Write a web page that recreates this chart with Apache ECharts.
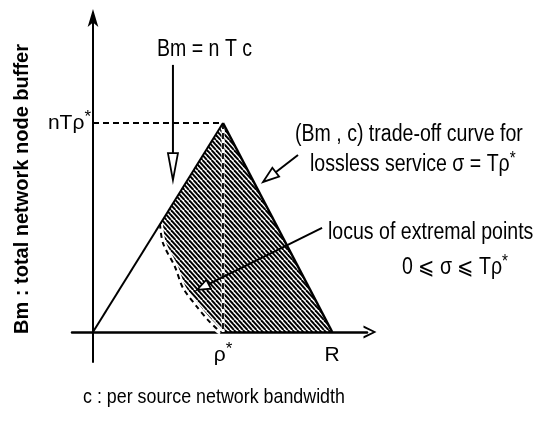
<!DOCTYPE html>
<html>
<head>
<meta charset="utf-8">
<script src="https://cdn.jsdelivr.net/npm/echarts@6/dist/echarts.min.js"></script>
<style>
  html, body { margin: 0; padding: 0; background: #fff; }
  #chart { width: 536px; height: 435px; }
</style>
</head>
<body>
<div id="chart"></div>
<script>
// c is measured in units of rho*, Bm in units of nT rho*
const rhoStar = 1;
const R = 1.84;
const peakBm = 1;

// Bm = nTc, from the origin up to the peak
const bufferLine = [[0, 0], [rhoStar, peakBm]];
// (Bm, c) trade-off curve for lossless service, sigma = T rho*
const tradeOffCurve = [[rhoStar, peakBm], [R, 0]];
// locus of extremal points for 0 <= sigma <= T rho*
const extremalLocus = [
  [0.515, 0.517], [0.538, 0.426], [0.631, 0.311], [0.692, 0.211],
  [0.800, 0.120], [0.885, 0.057], [0.962, 0.010], [0.985, 0]
];

// tick labels
const xTickValues = [rhoStar, R];
const xTickLabels = ['{m|ρ}{s|*}', '{m|R}'];
const yTickValues = [peakBm];
const yTickLabels = ['{m|nTρ}{s|*}'];

// annotation arrows: [tail, tip] in data units
const arrowNotes = [
  { from: [0.615, 1.278], to: [0.615, 0.727], head: 27, half: 5 },
  { from: [1.577, 0.847], to: [1.308, 0.718], head: 16, half: 5.5 },
  { from: [1.762, 0.498], to: [0.800, 0.201], head: 13, half: 5 }
];

const SANS = '"Liberation Sans", Arial, sans-serif';
// the condensed lettering is drawn with a horizontal squeeze
const SQUEEZE = 0.85;

// feasible region: peak -> R -> along the locus back up to the buffer line
const feasibleRegion = [tradeOffCurve[0], tradeOffCurve[1]].concat(extremalLocus.slice().reverse());

function makeHatch() {
  const c = document.createElement('canvas');
  c.width = 9; c.height = 10;
  const g = c.getContext('2d');
  g.strokeStyle = '#000';
  g.lineWidth = 1.9;
  for (const dx of [-13.5, -9, -4.5, 0, 4.5, 9, 13.5]) {
    g.beginPath();
    g.moveTo(dx, 0);
    g.lineTo(dx + 9, 10);
    g.stroke();
  }
  return c;
}
const hatchCanvas = makeHatch();

const tickRich = {
  m: { fontFamily: SANS, fontSize: 21, color: '#000', lineHeight: 28 },
  s: { fontFamily: SANS, fontSize: 17, color: '#000', verticalAlign: 'top', lineHeight: 28 }
};

function label(x, y, text, size) {
  return {
    type: 'text', x: x, y: y, scaleX: SQUEEZE,
    style: {
      text: text, verticalAlign: 'middle',
      rich: {
        m: { font: size + 'px ' + SANS, fill: '#000', lineHeight: 30 },
        s: { font: '18px ' + SANS, fill: '#000', lineHeight: 30, verticalAlign: 'top' }
      }
    }
  };
}

const chart = echarts.init(document.getElementById('chart'), null, { renderer: 'canvas' });

const black = { color: '#000', width: 2 };

chart.setOption({
  animation: false,
  backgroundColor: '#fff',
  grid: { left: 72, right: 169, top: 13, bottom: 73, containLabel: false, outerBoundsMode: 'none' },
  xAxis: {
    type: 'value', min: -0.1615, max: 2.1077,
    splitLine: { show: false },
    axisTick: { show: false },
    axisLine: {
      onZero: true,
      symbol: ['none', 'path://M0,12 L6,0 L12,12 L10,12 L6,3.5 L2,12 Z'],
      symbolSize: [13, 13],
      symbolOffset: [0, 3],
      lineStyle: { color: '#000', width: 2.5 }
    },
    axisLabel: {
      customValues: xTickValues,
      formatter: (v) => xTickLabels[xTickValues.indexOf(v)] || '',
      margin: -21,
      rich: tickRich
    }
  },
  yAxis: {
    type: 'value', min: -0.1435, max: 1.5263,
    splitLine: { show: false },
    axisTick: { show: false },
    axisLine: {
      onZero: true,
      symbol: ['none', 'arrow'],
      symbolSize: [8, 18],
      symbolOffset: [0, 4],
      lineStyle: { color: '#000', width: 2 }
    },
    axisLabel: {
      customValues: yTickValues,
      formatter: (v) => yTickLabels[yTickValues.indexOf(v)] || '',
      margin: -19,
      rich: tickRich
    }
  },
  series: [
    {
      // hatched feasible region
      type: 'custom', silent: true, z: 1,
      data: [[0, 0]],
      renderItem: (params, api) => ({
        type: 'polygon',
        shape: { points: feasibleRegion.map(p => api.coord(p)) },
        style: { fill: { image: hatchCanvas, repeat: 'repeat' }, stroke: null }
      })
    },
    // Bm = nTc
    { type: 'line', data: bufferLine, symbol: 'none', z: 3, lineStyle: black },
    // trade-off curve
    { type: 'line', data: tradeOffCurve, symbol: 'none', z: 3, lineStyle: { color: '#000', width: 2.5 } },
    // level nT rho*
    { type: 'line', data: [[0, peakBm], [rhoStar, peakBm]], symbol: 'none', z: 3,
      lineStyle: { color: '#000', width: 1.8, type: [6, 4] } },
    // c = rho*
    { type: 'line', data: [[rhoStar, peakBm], [rhoStar, 0]], symbol: 'none', z: 2,
      lineStyle: { color: '#fff', width: 3 } },
    { type: 'line', data: [[rhoStar, peakBm], [rhoStar, 0]], symbol: 'none', z: 3,
      lineStyle: { color: '#000', width: 1.8, type: [6, 4] } },
    // locus of extremal points
    { type: 'line', data: extremalLocus, symbol: 'none', smooth: 0.3, z: 2,
      lineStyle: { color: '#fff', width: 6 } },
    { type: 'line', data: extremalLocus, symbol: 'none', smooth: 0.3, z: 3,
      lineStyle: { color: '#000', width: 2, type: [5, 4] } },
    {
      // annotation arrows with hollow heads
      type: 'custom', silent: true, z: 5,
      data: arrowNotes.map((a, i) => [i]),
      renderItem: (params, api) => {
        const a = arrowNotes[params.dataIndex];
        const p0 = api.coord(a.from), p1 = api.coord(a.to);
        const dx = p1[0] - p0[0], dy = p1[1] - p0[1];
        const len = Math.hypot(dx, dy);
        const ux = dx / len, uy = dy / len;
        const bx = p1[0] - ux * a.head, by = p1[1] - uy * a.head;
        const nx = -uy * a.half, ny = ux * a.half;
        return {
          type: 'group',
          children: [
            { type: 'line', shape: { x1: p0[0], y1: p0[1], x2: bx, y2: by },
              style: { stroke: '#000', lineWidth: 2 } },
            { type: 'polygon',
              shape: { points: [[p1[0], p1[1]], [bx + nx, by + ny], [bx - nx, by - ny]] },
              style: { fill: '#fff', stroke: '#000', lineWidth: 1.8 } }
          ]
        };
      }
    }
  ],
  graphic: [
    label(157, 50, '{m|Bm = n T c}', 23),
    label(295, 135, '{m|(Bm , c) trade-off curve for}', 23),
    label(310, 165, '{m|lossless service σ = Tρ}{s|*}', 23),
    label(328, 233, '{m|locus of extremal points}', 23),
    label(402, 268, '{m|0 ⩽ σ ⩽ Tρ}{s|*}', 23),
    label(83, 397, '{m|c : per source network bandwidth}', 21),
    { type: 'text', x: 22, y: 189, rotation: Math.PI / 2, style: {
        text: 'Bm : total network node buffer', font: 'bold 20px ' + SANS, fill: '#000',
        align: 'center', verticalAlign: 'middle' } }
  ]
});
</script>
</body>
</html>
